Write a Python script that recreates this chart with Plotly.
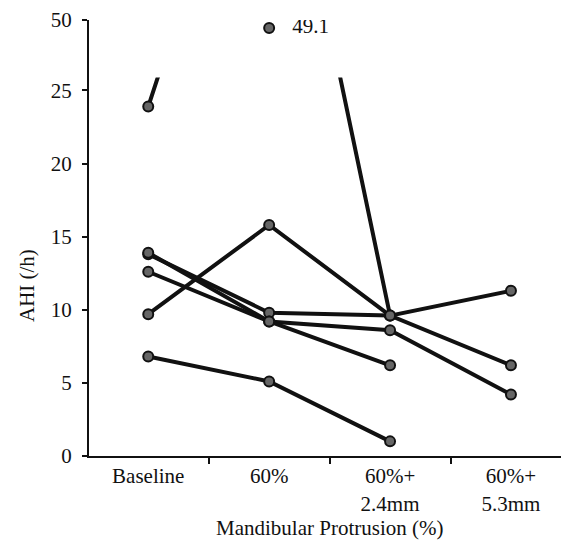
import plotly.graph_objects as go

categories = ["Baseline", "60%", "60%+<br>2.4mm", "60%+<br>5.3mm"]

# AHI per subject (None = not measured)
s1 = [23.9, 49.1, 9.6, 6.2]
s2 = [9.7, 15.8, 9.6, 11.3]
s3 = [13.8, 9.8, 9.6, None]
s4 = [13.9, 9.2, 8.6, 4.2]
s5 = [12.6, 9.2, 6.2, None]
s6 = [6.8, 5.1, 1.0, None]
series = [s1, s2, s3, s4, s5, s6]

outlier_cat = "60%"
outlier_val = 49.1

lower_ticks = [0, 5, 10, 15, 20, 25]
upper_ticks = [50]

FONT = "Liberation Serif"
INK = "#111111"

fig = go.Figure()
for s in series:
    fig.add_trace(go.Scatter(
        x=categories, y=s, mode="lines+markers", connectgaps=False,
        line=dict(color=INK, width=4),
        marker=dict(size=10, color="#666666", line=dict(color=INK, width=2)),
        xaxis="x", yaxis="y", showlegend=False, hoverinfo="skip",
    ))

fig.add_trace(go.Scatter(
    x=[outlier_cat], y=[outlier_val], mode="markers+text",
    text=["   " + str(outlier_val)], textposition="middle right",
    textfont=dict(family=FONT, size=21, color=INK),
    marker=dict(size=10, color="#666666", line=dict(color=INK, width=2)),
    xaxis="x", yaxis="y2", showlegend=False, hoverinfo="skip",
))

split = 0.868
fig.update_layout(
    width=561, height=535,
    margin=dict(l=81, r=0, t=9, b=87),
    paper_bgcolor="white", plot_bgcolor="white",
    font=dict(family=FONT, size=21, color=INK),
    xaxis=dict(
        type="category", categoryorder="array", categoryarray=categories,
        range=[-0.49, 3.48], showgrid=False, zeroline=False,
        showline=True, linecolor=INK, linewidth=2,
        ticks="outside", tickson="boundaries", ticklen=6, tickcolor=INK, tickwidth=2,
        tickfont=dict(family=FONT, size=21, color=INK),
        anchor="y",
    ),
    yaxis=dict(
        domain=[0, split], range=[0, 25.88],
        tickvals=lower_ticks, showgrid=False, zeroline=False,
        showline=True, linecolor=INK, linewidth=2,
        ticks="outside", ticklen=5, tickcolor=INK, tickwidth=2,
        ticklabelstandoff=6, ticklabeloverflow="allow",
        tickfont=dict(family=FONT, size=21, color=INK),
        anchor="x",
    ),
    yaxis2=dict(
        domain=[split, 1], range=[43.48, 50.001],
        tickvals=upper_ticks, showgrid=False, zeroline=False,
        showline=True, linecolor=INK, linewidth=2,
        ticks="outside", ticklen=5, tickcolor=INK, tickwidth=2,
        ticklabelstandoff=6, ticklabeloverflow="allow",
        tickfont=dict(family=FONT, size=21, color=INK),
        anchor="x",
    ),
    annotations=[
        dict(text="Mandibular Protrusion (%)", xref="paper", yref="paper",
             x=0.5, y=-0.165, xanchor="center", yanchor="middle",
             showarrow=False, font=dict(family=FONT, size=21, color=INK)),
        dict(text="AHI (/h)", xref="paper", yref="paper",
             x=-0.129, y=0.39, xanchor="center", yanchor="middle", textangle=-90,
             showarrow=False, font=dict(family=FONT, size=21, color=INK)),
    ],
)

fig.write_html("out.html")
